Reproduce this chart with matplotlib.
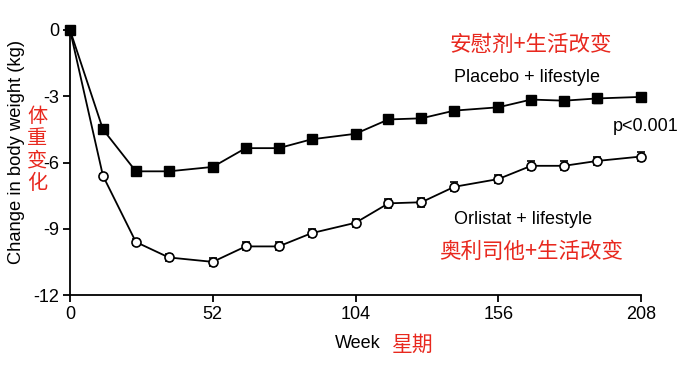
import numpy as np
import matplotlib
matplotlib.use('Agg')
import matplotlib.pyplot as plt

plt.rcParams['font.family'] = ['Liberation Sans', 'Noto Sans CJK SC']
plt.rcParams['axes.unicode_minus'] = False

weeks = [0, 12, 24, 36, 52, 64, 76, 88, 104, 116, 128, 140, 156, 168, 180, 192, 208]
placebo = [0, -4.5, -6.4, -6.4, -6.2, -5.35, -5.35, -4.95, -4.7, -4.05, -4.0,
           -3.65, -3.5, -3.15, -3.2, -3.1, -3.03]
orlistat = [0, -6.6, -9.6, -10.3, -10.5, -9.8, -9.8, -9.2, -8.73, -7.85, -7.8,
            -7.1, -6.75, -6.15, -6.15, -5.93, -5.73]
placebo_err = [0, 0.1, 0.12, 0.12, 0.14, 0.15, 0.15, 0.15, 0.16, 0.16, 0.17,
               0.17, 0.18, 0.18, 0.18, 0.19, 0.19]
orlistat_err = [0, 0.1, 0.12, 0.15, 0.17, 0.18, 0.18, 0.19, 0.19, 0.2, 0.2,
                0.2, 0.2, 0.2, 0.2, 0.2, 0.2]
xticks = [0, 52, 104, 156, 208]
yticks = [0, -3, -6, -9, -12]

red = '#e8281e'
cjk = ['Noto Sans CJK SC', 'DejaVu Sans']

fig = plt.figure(figsize=(6.81, 3.79), dpi=100)
ax = fig.add_axes([70/681, 1-295/379, 571/681, 265/379])

# orlistat first so the placebo square sits on top at week 0
ax.errorbar(weeks, orlistat, yerr=orlistat_err, color='black', lw=1.3,
            marker='o', ms=6.5, mfc='white', mec='black', mew=1.2, capsize=3,
            elinewidth=1.2, clip_on=False, zorder=3)
ax.errorbar(weeks, placebo, yerr=placebo_err, color='black', lw=1.3,
            marker='s', ms=7.5, mfc='black', mec='black', capsize=3,
            elinewidth=1.2, clip_on=False, zorder=4)

ax.set_xlim(0, 208)
ax.set_ylim(-12, 0)
ax.set_xticks(xticks)
ax.set_yticks(yticks)
ax.spines['top'].set_visible(False)
ax.spines['right'].set_visible(False)
ax.spines['left'].set_linewidth(1.3)
ax.spines['bottom'].set_linewidth(1.3)
ax.tick_params(direction='out', length=5, width=1.3, labelsize=13, pad=3)

ax.text(166.5, -2.17, 'Placebo + lifestyle', fontsize=13, ha='center', va='center')
ax.text(168, -0.68, '安慰剂+生活改变', fontsize=15.5, color=red, ha='center',
        va='center', family=cjk)
ax.text(197.8, -4.39, 'p<0.001', fontsize=13, ha='left', va='center', clip_on=False)
ax.text(165, -8.6, 'Orlistat + lifestyle', fontsize=13, ha='center', va='center')
ax.text(168, -10.05, '奥利司他+生活改变', fontsize=15.5, color=red, ha='center',
        va='center', family=cjk)

fig.text(17/681, 1-152/379, 'Change in body weight (kg)', rotation=90,
         fontsize=13.2, ha='center', va='center')
fig.text(37/681, 1-150/379, '体\n重\n变\n化', fontsize=14.5, color=red,
         ha='center', va='center', family=cjk, linespacing=1.1)
fig.text(358/681, 1-344/379, 'Week', fontsize=13, ha='center', va='center')
fig.text(413/681, 1-345/379, '星期', fontsize=15, color=red, ha='center',
         va='center', family=cjk)

plt.savefig('out.png', dpi=100)
